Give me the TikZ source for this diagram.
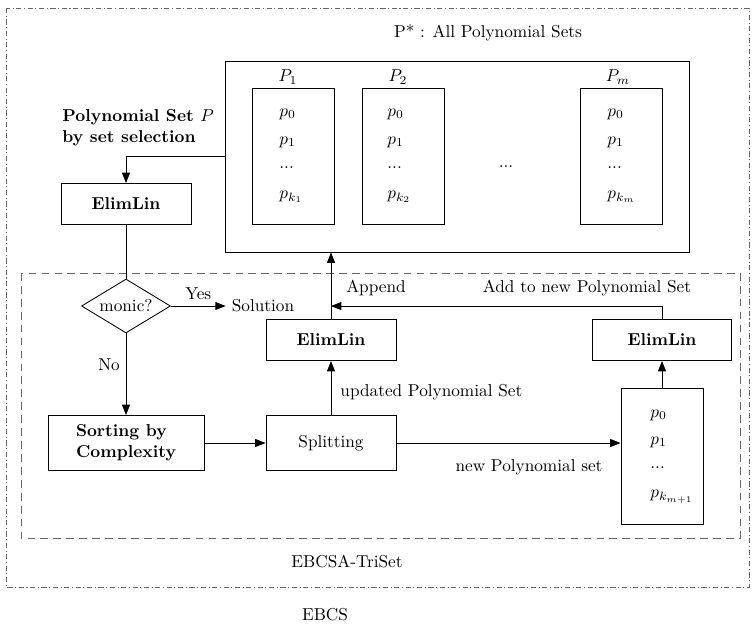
\documentclass[tikz,border=0pt]{standalone}
\usetikzlibrary{arrows.meta,shapes.geometric,fit}

\begin{document}
\begin{tikzpicture}[x=0.58pt,y=-0.58pt,line width=0.5pt,>={Triangle[length=6pt,width=4.6pt]},
	box/.style={draw, rectangle, minimum height=23.8pt, font=\bfseries},
	setbox/.style={draw, rectangle, minimum width=47.6pt, minimum height=78.9pt},
	entry/.style={anchor=west, inner sep=0pt}]
	\useasboundingbox (0,0) rectangle (753,624);
	% frames
	\draw[black!60, dash pattern=on 3pt off 1.5pt on 0.6pt off 1.5pt] (6,8) rectangle (749,587);
	\draw[black!60, dash pattern=on 4.5pt off 3pt] (21,273) rectangle (740,538);
	\node (ebcsa) at (347,562)	{EBCSA-TriSet};
	\node (ebcs) at (325,615)	{EBCS};

	% all polynomial sets
	\node (allsets) [draw, fit={(225,61) (689,252)}, inner sep=0pt] {};
	\node (title) at (488,33)	{P* : All Polynomial Sets};
	\node (set1) at (293,156)	[setbox] {};
	\node (set2) at (403,156)	[setbox] {};
	\node (setm) at (621,156)	[setbox] {};
	\node (lab1) at (288,77)	{$P_{1}$};
	\node (lab2) at (398,77)	{$P_{2}$};
	\node (labm) at (618,77)	{$P_{m}$};
	\node (p10) at (279,114)	[entry] {$p_{0}$};
	\node (p11) at (279,142)	[entry] {$p_{1}$};
	\node (p1d) at (279,168)	[entry] {...};
	\node (p1k) at (279,197)	[entry] {$p_{k_{1}}$};
	\node (p20) at (387,114)	[entry] {$p_{0}$};
	\node (p21) at (387,142)	[entry] {$p_{1}$};
	\node (p2d) at (387,168)	[entry] {...};
	\node (p2k) at (387,197)	[entry] {$p_{k_{2}}$};
	\node (dots) at (506,167)	{...};
	\node (pm0) at (607,114)	[entry] {$p_{0}$};
	\node (pm1) at (607,142)	[entry] {$p_{1}$};
	\node (pmd) at (607,168)	[entry] {...};
	\node (pmk) at (607,197)	[entry] {$p_{k_{m}}$};

	% main loop
	\node (select) at (62,128)	[anchor=west, align=left, font=\bfseries, inner sep=0pt] {Polynomial Set $P$\\by set selection};
	\node (elim1) at (126,204)	[box, minimum width=75.4pt] {ElimLin};
	\node (monic) at (126,306)	[draw, diamond, aspect=1.65, minimum width=51.6pt, minimum height=31.3pt, inner sep=1pt] {monic?};
	\node (solution) at (263,306)	{Solution};
	\node (sorting) at (126,443)	[box, minimum width=90.5pt, minimum height=31.9pt, align=left] {Sorting by\\Complexity};
	\node (splitting) at (331,443)	[draw, minimum width=75.4pt, minimum height=31.9pt] {Splitting};
	\node (elim2) at (331,340)	[box, minimum width=75.4pt] {ElimLin};
	\node (elim3) at (662,340)	[box, minimum width=80.6pt] {ElimLin};
	\node (newset) at (662,456)	[setbox] {};
	\node (pn0) at (650,415)	[entry] {$p_{0}$};
	\node (pn1) at (650,442)	[entry] {$p_{1}$};
	\node (pnd) at (650,468)	[entry] {...};
	\node (pnk) at (650,497)	[entry] {$p_{k_{m+1}}$};
	\path (elim2.north) ++(0,-13) coordinate (addpt);

	\draw[->] (allsets.west) -| (elim1.north);
	\draw (elim1.south) -- (monic.north);
	\draw[->] (monic.east) -- (monic.east -| solution.west) node[midway, above] {Yes};
	\draw[->] (monic.south) -- (sorting.north) node[pos=0.38, left] {No};
	\draw[->] (sorting.east) -- (splitting.west);
	\draw[->] (splitting.north) -- (elim2.south);
	\node (updated) at (340,392)	[anchor=west, inner sep=0pt] {updated Polynomial Set};
	\draw[->] (elim2.north) -- (elim2.north |- allsets.south);
	\node (append) at (376,288)	{Append};
	\draw[->] (elim3.north) |- (addpt);
	\node (addnew) at (587,288)	{Add to new Polynomial Set};
	\draw[->] (splitting.east) -- (splitting.east -| newset.west);
	\node (newlab) at (529,467)	{new Polynomial set};
	\draw[->] (newset.north) -- (elim3.south);
\end{tikzpicture}
\end{document}
